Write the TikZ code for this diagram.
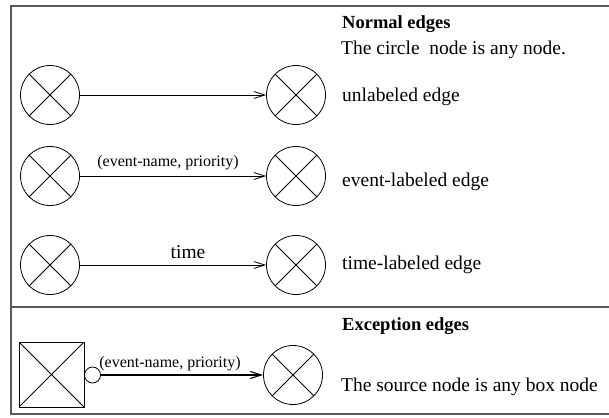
\documentclass[tikz,border=0pt]{standalone}
\usepackage{fontspec}
\setmainfont{Liberation Serif}
\usetikzlibrary{arrows.meta}
\begin{document}
\begin{tikzpicture}[x=1pt,y=-1pt,
  frameline/.style={draw=black!65,line width=1.3pt},
  xcircle/.style={circle,draw,line width=0.8pt,minimum size=59pt,inner sep=0pt,
    path picture={\draw[line width=0.8pt] (path picture bounding box.north west)++(8.6pt,-8.6pt) -- ([shift={(-8.6pt,8.6pt)}]path picture bounding box.south east);
      \draw[line width=0.8pt] ([shift={(8.6pt,8.6pt)}]path picture bounding box.south west) -- ([shift={(-8.6pt,-8.6pt)}]path picture bounding box.north east);}},
  xbox/.style={rectangle,draw,line width=0.8pt,minimum size=65pt,inner sep=0pt,
    path picture={\draw[line width=0.8pt] (path picture bounding box.north west) -- (path picture bounding box.south east);
      \draw[line width=0.8pt] (path picture bounding box.south west) -- (path picture bounding box.north east);}},
  smallc/.style={circle,draw,line width=0.8pt,minimum size=16pt,inner sep=0pt},
  edgearrow/.style={line width=0.8pt,-{Straight Barb[length=11pt,width=7pt]}},
  bodytext/.style={anchor=west,inner sep=0pt,font=\fontsize{19.5}{22}\selectfont},
  headtext/.style={anchor=west,inner sep=0pt,font=\fontsize{18.5}{21}\selectfont\bfseries},
  labtext/.style={inner sep=0pt,font=\fontsize{16}{18}\selectfont}]
\useasboundingbox (0,0) rectangle (609,417);
\fill[white] (0,0) rectangle (609,417);
% frame
\coordinate (ftl) at (11,6);
\coordinate (ftr) at (609,6);
\coordinate (fbl) at (11,414);
\coordinate (fbr) at (609,414);
\coordinate (fml) at (11,307);
\coordinate (fmr) at (609,307);
\draw[frameline] (ftr) -- (ftl) -- (fbl) -- (fbr);
\draw[frameline] (fml) -- (fmr);
% normal edges
\node[xcircle] (s1) at (50,95) {};
\node[xcircle] (t1) at (296,95) {};
\node[xcircle] (s2) at (50,176) {};
\node[xcircle] (t2) at (296,176) {};
\node[xcircle] (s3) at (50,265) {};
\node[xcircle] (t3) at (296,265) {};
\draw[edgearrow] (s1) -- (t1);
\draw[edgearrow] (s2) -- (t2);
\draw[edgearrow] (s3) -- (t3);
\node[labtext] (l2) at (168,163) {(event-name, priority)};
\node[labtext,font=\fontsize{19.5}{22}\selectfont] (l3) at (188,252) {time};
% exception edge
\node[xbox] (b4) at (51.5,374.5) {};
\node[smallc] (c4) at (92.5,375) {};
\node[xcircle] (t4) at (293,375) {};
\draw[edgearrow,line width=1.1pt] (c4) -- (t4);
\node[labtext] (l4) at (170,364) {(event-name, priority)};
% texts
\node[headtext] (h1) at (342,24) {Normal edges};
\node[bodytext] (d1) at (341,50) {The circle~ node is any node.};
\node[bodytext] (e1) at (342,97) {unlabeled edge};
\node[bodytext] (e2) at (342,182) {event-labeled edge};
\node[bodytext] (e3) at (342,265) {time-labeled edge};
\node[headtext] (h2) at (342,326) {Exception edges};
\node[bodytext] (d2) at (341,387) {The source node is any box node};
\end{tikzpicture}
\end{document}
